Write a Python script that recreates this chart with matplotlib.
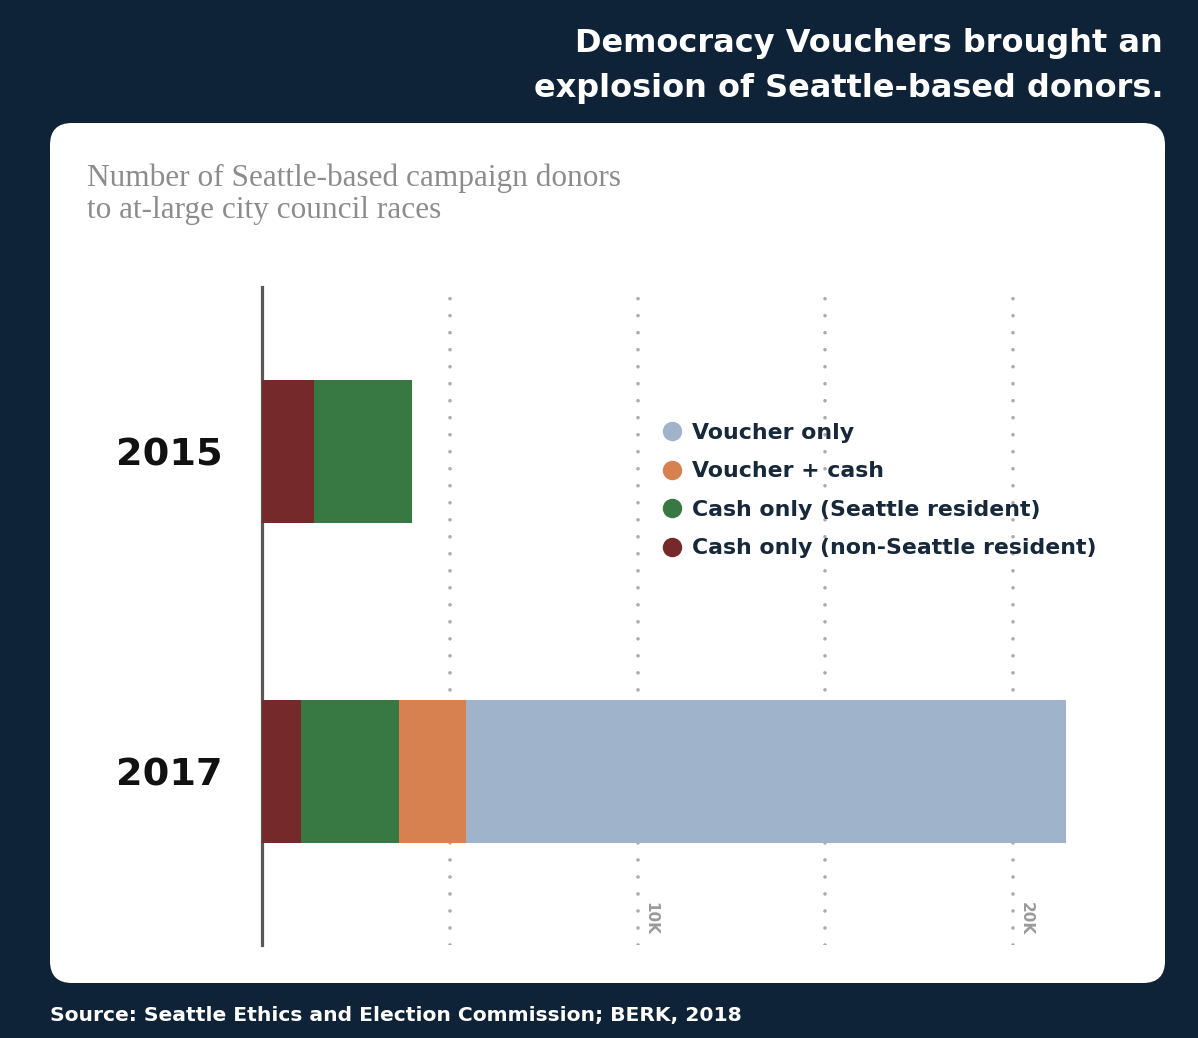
import matplotlib.pyplot as plt
from matplotlib.patches import FancyBboxPatch
from matplotlib.lines import Line2D

# donors per race year, stacked left to right
years = ["2015", "2017"]
cash_non_resident = [1400, 1050]
cash_resident = [2600, 2610]
voucher_cash = [0, 1780]
voucher_only = [0, 15960]

series_labels = ["Voucher only", "Voucher + cash",
                 "Cash only (Seattle resident)", "Cash only (non-Seattle resident)"]
series_colors = ["#9fb4ca", "#d6814f", "#387842", "#76292b"]

grid_ticks = [5000, 10000, 15000, 20000]
tick_labels = {10000: "10K", 20000: "20K"}

NAVY = "#0f2338"

fig = plt.figure(figsize=(11.98, 10.38), dpi=100)
fig.patch.set_facecolor(NAVY)

# white rounded card
card = FancyBboxPatch((0.50, 0.55), 11.15, 8.60,
                      boxstyle="round,pad=0,rounding_size=0.22",
                      transform=fig.dpi_scale_trans,
                      facecolor="white", edgecolor="none", zorder=0)
fig.add_artist(card)

W, H = 1198, 1038
ax_left, ax_right, ax_top, ax_bottom = 261.5, 1110, 287, 945
ax = fig.add_axes([ax_left / W, 1 - ax_bottom / H,
                   (ax_right - ax_left) / W, (ax_bottom - ax_top) / H])
ax.set_facecolor("none")

px_per_k = 37.6
ax.set_xlim(0, (ax_right - ax_left) / px_per_k * 1000)

ypos = [0, 1]
bar_h = 0.446
ax.set_ylim(1.54, -0.513)

left = [0, 0]
for vals, col in [(cash_non_resident, series_colors[3]),
                  (cash_resident, series_colors[2]),
                  (voucher_cash, series_colors[1]),
                  (voucher_only, series_colors[0])]:
    ax.barh(ypos, vals, left=left, height=bar_h, color=col, zorder=3)
    left = [l + v for l, v in zip(left, vals)]

# dotted gridlines (round dots)
for t in grid_ticks:
    ax.axvline(t, color="#ababab", linewidth=2.6,
               linestyle=(0, (0.01, 4.7)), dash_capstyle="round", zorder=1)
for t, lab in tick_labels.items():
    ax.annotate(lab, xy=(t, 0.065), xycoords=("data", "axes fraction"),
                xytext=(4, 0), textcoords="offset points",
                rotation=-90, ha="left", va="top",
                fontsize=11, color="#9a9a9a", fontweight="bold")

for s in ["top", "right", "bottom"]:
    ax.spines[s].set_visible(False)
ax.spines["left"].set_color("#595959")
ax.spines["left"].set_linewidth(2.3)
ax.set_xticks([])
ax.set_yticks(ypos)
ax.set_yticklabels(years, fontsize=27.5, fontweight="bold", color="#111111")
ax.tick_params(axis="y", length=0, pad=28)

handles = [Line2D([], [], marker="o", linestyle="none", markersize=14,
                  markerfacecolor=c, markeredgecolor="none")
           for c in series_colors]
leg = fig.legend(handles, series_labels, loc="upper left",
                 bbox_to_anchor=(650 / W, 1 - 412 / H),
                 frameon=False, fontsize=15.8, handlelength=1.0,
                 handletextpad=0.4, labelspacing=0.84, borderpad=0)
for txt in leg.get_texts():
    txt.set_color("#17283a")
    txt.set_fontweight("bold")

fig.text(1163 / W, 1 - 66 / H, "Democracy Vouchers brought an\nexplosion of Seattle-based donors.",
         ha="right", va="center", color="white", fontsize=23,
         fontweight="bold", linespacing=1.55)

fig.text(87 / W, 1 - 194 / H, "Number of Seattle-based campaign donors\nto at-large city council races",
         ha="left", va="center", color="#8c8c8c", fontsize=22.5,
         family="Liberation Serif", linespacing=1.15)

fig.text(50 / W, 1 - 1015 / H, "Source: Seattle Ethics and Election Commission; BERK, 2018",
         ha="left", va="center", color="white", fontsize=14.6, fontweight="bold")

fig.savefig("out.png", dpi=100, facecolor=NAVY)
